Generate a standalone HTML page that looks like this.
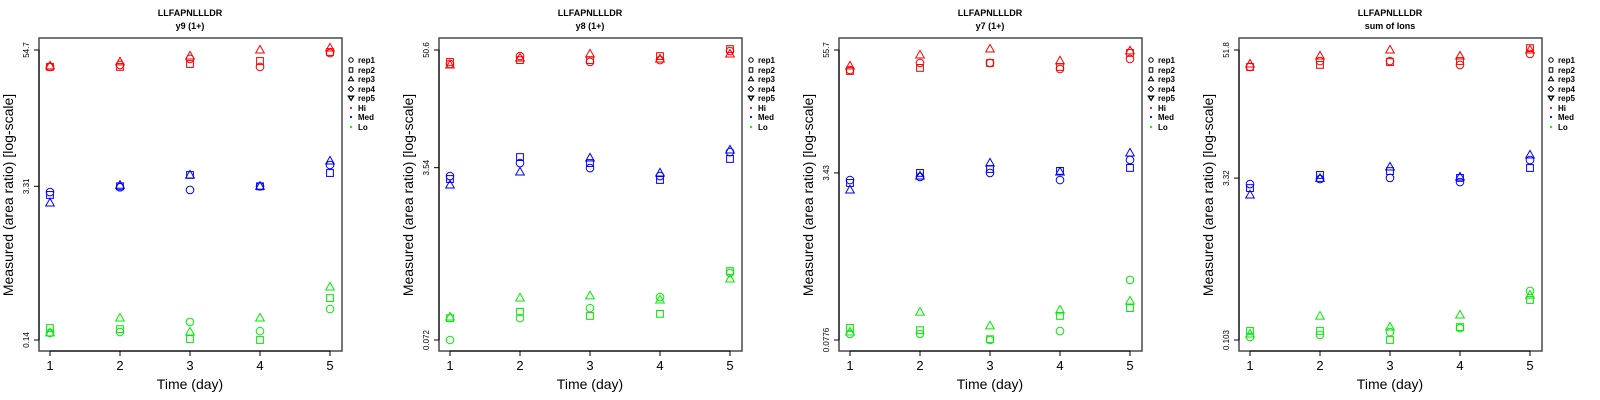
<!DOCTYPE html>
<html><head><meta charset="utf-8"><style>
html,body{margin:0;padding:0;background:#fff;}
svg{display:block;font-family:"Liberation Sans",sans-serif;}
</style></head><body>
<svg id="chart" width="1600" height="400" viewBox="0 0 1600 400" xmlns="http://www.w3.org/2000/svg"></svg>
<script>
const days = [1, 2, 3, 4, 5];
const panelTitles = ["LLFAPNLLLDR", "LLFAPNLLLDR", "LLFAPNLLLDR", "LLFAPNLLLDR"];
const panelSubtitles = ["y9 (1+)", "y8 (1+)", "y7 (1+)", "sum of Ions"];
const yMin = [0.14, 0.072, 0.0776, 0.103];
const yMid = [3.31, 3.54, 3.43, 3.32];
const yMax = [54.7, 50.6, 55.7, 51.8];
const yTickLabels = [["0.14","3.31","54.7"],["0.072","3.54","50.6"],["0.0776","3.43","55.7"],["0.103","3.32","51.8"]];
const legendLabels = ["rep1","rep2","rep3","rep4","rep5","Hi","Med","Lo"];
// values per day: [rep1, rep2, rep3]
const p1Hi  = [[38.6,38.6,39.5],[40.2,38.6,42.8],[45.5,41.0,48.4],[38.6,43.6,54.7],[51.4,52.5,57.0]];
const p1Med = [[2.94,2.77,2.35],[3.24,3.31,3.38],[3.07,4.18,4.18],[3.31,3.31,3.31],[5.13,4.35,5.57]];
const p1Lo  = [[0.162,0.179,0.162],[0.165,0.175,0.220],[0.203,0.143,0.165],[0.168,0.140,0.220],[0.265,0.332,0.417]];
const p2Hi  = [[36.9,38.6,36.0],[44.1,40.3,42.2],[38.6,40.3,46.2],[40.3,44.1,41.3],[49.4,51.7,46.2]];
const p2Med = [[2.93,2.74,2.39],[3.93,4.50,3.21],[3.51,3.93,4.40],[2.93,2.68,3.14],[5.04,4.31,5.28]];
const p2Lo  = [[0.072,0.118,0.121],[0.118,0.136,0.186],[0.148,0.124,0.195],[0.190,0.130,0.178],[0.327,0.342,0.286]];
const p3Hi  = [[35.4,34.6,38.8],[41.5,37.1,49.8],[41.5,41.5,57.0],[36.2,37.9,43.5],[45.5,52.1,54.6]];
const p3Med = [[2.92,2.73,2.33],[3.13,3.43,3.20],[3.43,3.75,4.30],[2.92,3.59,3.50],[4.60,3.84,5.39]];
const p3Lo  = [[0.089,0.102,0.093],[0.089,0.097,0.146],[0.0776,0.079,0.107],[0.095,0.134,0.153],[0.303,0.160,0.188]];
const p4Hi  = [[36.0,36.0,38.4],[40.9,37.6,45.5],[40.9,40.0,51.8],[37.6,40.9,45.5],[47.6,53.9,51.8]];
const p4Med = [[2.92,2.68,2.31],[3.25,3.55,3.30],[3.33,3.86,4.21],[3.05,3.33,3.40],[4.89,4.12,5.45]];
const p4Lo  = [[0.110,0.125,0.117],[0.115,0.125,0.172],[0.122,0.103,0.136],[0.133,0.136,0.176],[0.295,0.243,0.270]];
const panelSeries = [[p1Hi,p1Med,p1Lo],[p2Hi,p2Med,p2Lo],[p3Hi,p3Med,p3Lo],[p4Hi,p4Med,p4Lo]];
const groupNames = ["hi","med","lo"];
const groupColors = ["#ff0000","#0000ff","#00ee00"];

const NS = "http://www.w3.org/2000/svg";
const svg = document.getElementById("chart");
function mk(tag, attrs, parent, text) {
  const e = document.createElementNS(NS, tag);
  for (const k in attrs) e.setAttribute(k, attrs[k]);
  if (text !== undefined) e.textContent = text;
  parent.appendChild(e);
  return e;
}
const BOX_L = 39, BOX_R = 342, BOX_T = 38, BOX_B = 351, Y_TOP = 50, Y_BOT = 340, X_1 = 50, X_STEP = 70;

for (let p = 0; p < 4; p++) {
  const ox = p * 400;
  const g = mk("g", {transform: "translate(" + ox + ",0)"}, svg);
  
  
  const lmin = Math.log(yMin[p]), lmax = Math.log(yMax[p]);
  const yS = v => Y_BOT - (Math.log(v) - lmin) / (lmax - lmin) * (Y_BOT - Y_TOP);
  const xS = d => X_1 + (d - 1) * X_STEP;

  const t1 = mk("text", {x: 190, y: 16, "text-anchor": "middle", "font-size": "9", "font-weight": "bold"}, g, panelTitles[p]);
  
  
  const t2 = mk("text", {x: 190, y: 29, "text-anchor": "middle", "font-size": "9", "font-weight": "bold"}, g, panelSubtitles[p]);
  
  

  const box = mk("rect", {x: BOX_L, y: BOX_T, width: BOX_R - BOX_L, height: BOX_B - BOX_T, fill: "none", stroke: "#555", "stroke-width": 1.6}, g);
  
  

  // x axis
  const xa = mk("g", {}, g);
  
  
  mk("line", {x1: xS(days[0]), x2: xS(days[days.length-1]), y1: BOX_B, y2: BOX_B, stroke: "#000", "stroke-width": 1}, xa);
  days.forEach(d => {
    mk("line", {x1: xS(d), x2: xS(d), y1: BOX_B, y2: BOX_B + 5, stroke: "#000", "stroke-width": 1}, xa);
    const tl = mk("text", {x: xS(d), y: 370, "text-anchor": "middle", "font-size": "13"}, xa, String(d));
    
    
  });
  const xt = mk("text", {x: 190, y: 389, "text-anchor": "middle", "font-size": "14"}, g, "Time (day)");
  
  

  // y axis
  const ya = mk("g", {}, g);
  
  
  const tv = [yMin[p], yMid[p], yMax[p]];
  mk("line", {x1: BOX_L, x2: BOX_L, y1: yS(yMin[p]), y2: yS(yMax[p]), stroke: "#000", "stroke-width": 1}, ya);
  tv.forEach((v, i) => {
    const y = yS(v);
    mk("line", {x1: BOX_L - 5, x2: BOX_L, y1: y, y2: y, stroke: "#000", "stroke-width": 1}, ya);
    const tl = mk("text", {x: 29, y: y, "text-anchor": "middle", "font-size": "8", transform: "rotate(-90 29 " + y + ")"}, ya, yTickLabels[p][i]);
    
    
  });
  const yt = mk("text", {x: 13, y: 195, "text-anchor": "middle", "font-size": "14", transform: "rotate(-90 13 195)"}, g, "Measured (area ratio) [log-scale]");
  
  

  // points
  panelSeries[p].forEach((series, gi) => {
    const sg = mk("g", {fill: "none", stroke: groupColors[gi], "stroke-width": 1}, g);
    
    
    series.forEach((reps, di) => {
      const x = xS(days[di]);
      reps.forEach((v, r) => {
        const y = yS(v);
        let m;
        if (r === 0) m = mk("circle", {cx: x, cy: y, r: 3.8}, sg);
        else if (r === 1) m = mk("rect", {x: x - 3.4, y: y - 3.4, width: 6.8, height: 6.8}, sg);
        else m = mk("polygon", {points: (x - 4.3) + "," + (y + 3) + " " + (x + 4.3) + "," + (y + 3) + " " + x + "," + (y - 4.6)}, sg);
        
        
      });
    });
  });

  // legend
  const lg = mk("g", {}, g);
  
  
  const ly = [60, 70, 79, 89, 98, 108, 117, 127];
  legendLabels.forEach((lab, i) => {
    const y = ly[i], x = 351;
    const eg = mk("g", {}, lg);
    
    
    if (i === 0) mk("circle", {cx: x, cy: y, r: 2.2, fill: "none", stroke: "#000", "stroke-width": 1}, eg);
    else if (i === 1) mk("rect", {x: x - 1.8, y: y - 2.2, width: 3.6, height: 4.4, fill: "none", stroke: "#000", "stroke-width": 1}, eg);
    else if (i === 2) mk("polygon", {points: (x-2.6)+","+(y+1.8)+" "+(x+2.6)+","+(y+1.8)+" "+x+","+(y-2.4), fill: "none", stroke: "#000", "stroke-width": 1}, eg);
    else if (i === 3) mk("polygon", {points: x+","+(y-2.6)+" "+(x+2.6)+","+y+" "+x+","+(y+2.6)+" "+(x-2.6)+","+y, fill: "none", stroke: "#000", "stroke-width": 1}, eg);
    else if (i === 4) mk("polygon", {points: (x-2.6)+","+(y-1.8)+" "+(x+2.6)+","+(y-1.8)+" "+x+","+(y+2.4), fill: "none", stroke: "#000", "stroke-width": 1.3}, eg);
    else mk("circle", {cx: x, cy: y, r: 1.1, fill: groupColors[i - 5]}, eg);
    mk("text", {x: 358, y: y + 3, "font-size": "8", "font-weight": "bold"}, eg, lab);
  });
}
</script>
</body></html>
